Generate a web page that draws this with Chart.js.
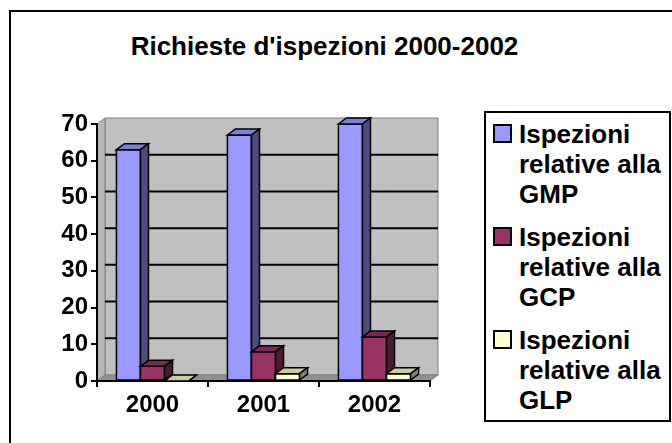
<!DOCTYPE html>
<html>
<head>
<meta charset="utf-8">
<script src="https://cdn.jsdelivr.net/npm/chart.js@4"></script>
<style>
  body { margin: 0; background: #fff; overflow: hidden; }
  #wrap { position: relative; width: 672px; height: 443px; overflow: hidden; }
  #frame { position: absolute; left: 9px; top: 10px; width: 700px; height: 480px; border: 2px solid #000; }
  #title { position: absolute; left: 0; top: 31px; width: 649px; text-align: center; font: 700 26px/31px "Liberation Sans", Arial, sans-serif; }
  canvas { position: absolute; left: 0; top: 0; }
  #legend { position: absolute; left: 484px; top: 111px; width: 187px; height: 311px; border: 2px solid #000; background: #fff; box-sizing: border-box; padding: 6px 0 0 7px; }
  .item { display: flex; align-items: flex-start; margin-bottom: 13px; }
  .sw { width: 15px; height: 15px; border: 2px solid #000; margin: 5px 7px 0 0; flex: none; }
  .txt { font: 700 26px/30px "Liberation Sans", Arial, sans-serif; width: 158px; }
</style>
</head>
<body>
<div id="wrap">
  <div id="frame"></div>
  <div id="title">Richieste d'ispezioni 2000-2002</div>
  <canvas id="chart" width="672" height="443"></canvas>
  <div id="legend"></div>
</div>
<script>
const years = ['2000', '2001', '2002'];
const seriesNames = ['Ispezioni relative alla GMP', 'Ispezioni relative alla GCP', 'Ispezioni relative alla GLP'];
const gmp = [63, 67, 70];
const gcp = [4, 8, 12];
const glp = [0, 2, 2];
const yTicks = [0, 10, 20, 30, 40, 50, 60, 70];

// front, top, side
const colors = [
  ['#9999ff', '#7f7fdd', '#4d4d80'],
  ['#993366', '#7a2952', '#4d1a33'],
  ['#ffffcc', '#cccca3', '#808066']
];

const DX = 8, DY = 6;

function poly(ctx, pts, fill, stroke, lw) {
  ctx.beginPath();
  ctx.moveTo(pts[0][0], pts[0][1]);
  for (let i = 1; i < pts.length; i++) ctx.lineTo(pts[i][0], pts[i][1]);
  ctx.closePath();
  ctx.fillStyle = fill;
  ctx.fill();
  if (stroke) {
    ctx.strokeStyle = stroke;
    ctx.lineWidth = lw || 1;
    ctx.stroke();
  }
}

// walls + back gridlines
const walls = {
  id: 'walls',
  beforeDraw(chart) {
    const ctx = chart.ctx;
    const a = chart.chartArea;
    const y = chart.scales.y;
    ctx.save();
    poly(ctx, [[a.left + DX, a.top - DY], [a.right + DX, a.top - DY], [a.right + DX, a.bottom - DY], [a.left + DX, a.bottom - DY]], '#c0c0c0', '#808080', 1);
    poly(ctx, [[a.left, a.bottom], [a.left, a.top], [a.left + DX, a.top - DY], [a.left + DX, a.bottom - DY]], '#b8b8b8', '#808080', 1);
    poly(ctx, [[a.left, a.bottom], [a.right, a.bottom], [a.right + DX, a.bottom - DY], [a.left + DX, a.bottom - DY]], '#909090', '#808080', 1);
    ctx.strokeStyle = '#000';
    ctx.lineWidth = 2;
    yTicks.slice(1, -1).forEach(v => {
      const py = y.getPixelForValue(v) - DY;
      ctx.beginPath();
      ctx.moveTo(a.left + DX, py);
      ctx.lineTo(a.right + DX, py);
      ctx.stroke();
    });
    ctx.restore();
  }
};

// 3D faces, drawn per category from left to right
const bars3d = {
  id: 'bars3d',
  afterDatasetsDraw(chart) {
    const ctx = chart.ctx;
    ctx.save();
    years.forEach((_, i) => {
      chart.data.datasets.forEach((ds, d) => {
        const bar = chart.getDatasetMeta(d).data[i];
        const L = bar.x - bar.width / 2, R = bar.x + bar.width / 2;
        const T = bar.y, B = bar.base;
        const c = colors[d];
        poly(ctx, [[L, B], [L, T], [R, T], [R, B]], c[0], '#000', 1.5);
        poly(ctx, [[L, T], [L + DX, T - DY], [R + DX, T - DY], [R, T]], c[1], '#000', 1.5);
        poly(ctx, [[R, T], [R + DX, T - DY], [R + DX, B - DY], [R, B]], c[2], '#000', 1.5);
      });
    });
    ctx.restore();
  }
};

const tickFont = { family: '"Liberation Sans", Arial, sans-serif', size: 24, weight: 'bold' };

new Chart(document.getElementById('chart'), {
  type: 'bar',
  data: {
    labels: years,
    datasets: [gmp, gcp, glp].map((vals, d) => ({
      label: seriesNames[d],
      data: vals,
      backgroundColor: colors[d][0],
      borderColor: '#000',
      borderWidth: 1,
      categoryPercentage: 0.65,
      barPercentage: 1
    }))
  },
  options: {
    responsive: false,
    animation: false,
    layout: { padding: { left: 0, top: 124, right: 242, bottom: 22 } },
    plugins: { legend: { display: false }, title: { display: false }, tooltip: { enabled: false } },
    scales: {
      x: {
        offset: true,
        afterFit(s) { s.height = 40; },
        grid: { offset: true, drawOnChartArea: false, drawTicks: true, tickLength: 6, color: '#000', lineWidth: 2 },
        border: { display: true, color: '#000', width: 2 },
        ticks: { color: '#000', font: tickFont, padding: 4 }
      },
      y: {
        min: 0,
        max: 70,
        afterFit(s) { s.width = 97; },
        afterBuildTicks(s) { s.ticks = yTicks.map(v => ({ value: v })); },
        grid: { drawOnChartArea: false, drawTicks: true, tickLength: 6, color: '#000', lineWidth: 2 },
        border: { display: true, color: '#000', width: 2 },
        ticks: { color: '#000', font: tickFont, padding: 3 }
      }
    }
  },
  plugins: [walls, bars3d]
});

// legend built from the series
const legend = document.getElementById('legend');
seriesNames.forEach((name, d) => {
  const item = document.createElement('div');
  item.className = 'item';
  const sw = document.createElement('div');
  sw.className = 'sw';
  sw.style.background = colors[d][0];
  const txt = document.createElement('div');
  txt.className = 'txt';
  txt.textContent = name;
  item.appendChild(sw);
  item.appendChild(txt);
  legend.appendChild(item);
});
</script>
</body>
</html>
